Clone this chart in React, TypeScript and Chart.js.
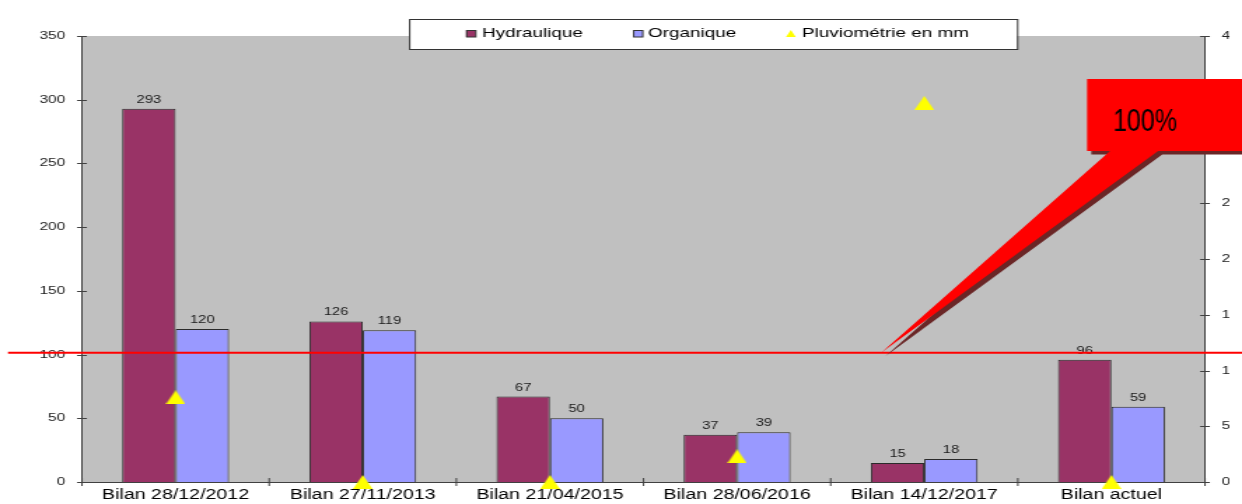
import { useEffect, useRef } from "react";
import { Chart, registerables } from "chart.js";

Chart.register(...registerables);

// ---------- data ----------
const categories = [
  "Bilan 28/12/2012",
  "Bilan 27/11/2013",
  "Bilan 21/04/2015",
  "Bilan 28/06/2016",
  "Bilan 14/12/2017",
  "Bilan actuel",
];
const hydraulique = [293, 126, 67, 37, 15, 96];
const organique = [120, 119, 50, 39, 18, 59];
const pluviometrie = [7.6, 0, 0, 2.3, 34, 0];
const seriesNames = ["Hydraulique", "Organique", "Pluviométrie en mm"];
const leftAxis = { min: 0, max: 350, step: 50 };
const rightAxis = { min: 0, max: 40, step: 5 };
const refLineValue = 101.5;
const calloutText = "100%";

// ---------- layout / style ----------
const IMG_W = 1242;
const IMG_H = 504;
const CANVAS_W = 887;
const S = IMG_W / CANVAS_W; // horizontal stretch of the original picture
const FONT = "'Liberation Sans', Arial, sans-serif";
const HYD_COLOR = "#993366";
const ORG_COLOR = "#9999FF";
const PLUV_COLOR = "#FFFF00";
const AXIS_COLOR = "#404040";
const PLOT_BG = "#C0C0C0";

function makeTriangle(w: number, h: number) {
  const c = document.createElement("canvas");
  c.width = w;
  c.height = h;
  const g = c.getContext("2d")!;
  g.fillStyle = PLUV_COLOR;
  g.beginPath();
  g.moveTo(w / 2, 0);
  g.lineTo(w, h);
  g.lineTo(0, h);
  g.closePath();
  g.fill();
  return c;
}

const decorPlugin = {
  id: "decor",
  beforeDraw(chart: any) {
    const { ctx, chartArea: a } = chart;
    ctx.save();
    ctx.fillStyle = "#ffffff";
    ctx.fillRect(0, 0, chart.width, chart.height);
    ctx.fillStyle = PLOT_BG;
    ctx.fillRect(a.left, a.top, a.right - a.left, a.bottom - a.top);
    ctx.restore();
  },
  afterDatasetsDraw(chart: any) {
    const { ctx } = chart;
    ctx.save();
    ctx.font = `10.5px ${FONT}`;
    ctx.fillStyle = "#1a1a1a";
    ctx.textAlign = "center";
    ctx.textBaseline = "alphabetic";
    [0, 1].forEach((di) => {
      const meta = chart.getDatasetMeta(di);
      const vals = chart.data.datasets[di].data as number[];
      meta.data.forEach((bar: any, j: number) => {
        ctx.fillText(String(vals[j]), bar.x, bar.y - 6);
      });
    });
    ctx.restore();
  },
  afterDraw(chart: any) {
    const { ctx, chartArea: a, scales } = chart;
    const x = scales.x;
    const y = scales.y;
    const y1 = scales.y1;
    ctx.save();

    // cross tick marks
    ctx.strokeStyle = AXIS_COLOR;
    ctx.lineWidth = 1;
    ctx.beginPath();
    y.ticks.forEach((t: any) => {
      const py = Math.round(y.getPixelForValue(t.value)) + 0.5;
      ctx.moveTo(a.left - 3.5, py);
      ctx.lineTo(a.left + 3.5, py);
    });
    y1.ticks.forEach((t: any) => {
      const py = Math.round(y1.getPixelForValue(t.value)) + 0.5;
      ctx.moveTo(a.right - 3.5, py);
      ctx.lineTo(a.right + 3.5, py);
    });
    const half = (x.getPixelForValue(1) - x.getPixelForValue(0)) / 2;
    for (let i = 0; i <= categories.length; i++) {
      const px = x.getPixelForValue(i) - half;
      ctx.moveTo(px, a.bottom - 4);
      ctx.lineTo(px, a.bottom + 4);
    }
    ctx.stroke();

    // the original picture is cropped on the right
    ctx.fillStyle = "#ffffff";
    ctx.fillRect(1229.5 / S, 0, chart.width, chart.height);

    // legend
    const lx0 = 409 / S;
    const lx1 = 1017 / S;
    ctx.fillStyle = "#ffffff";
    ctx.fillRect(lx0, 19, lx1 - lx0, 30);
    ctx.strokeStyle = "#333333";
    ctx.strokeRect(lx0 + 0.5, 19.5, lx1 - lx0, 30);
    ctx.font = `13.5px ${FONT}`;
    ctx.fillStyle = "#000000";
    ctx.textAlign = "left";
    ctx.textBaseline = "alphabetic";
    const markers = [466 / S, 633 / S, 786 / S];
    const texts = [482 / S, 648 / S, 802 / S];
    [HYD_COLOR, ORG_COLOR].forEach((c, i) => {
      ctx.fillStyle = c;
      ctx.fillRect(markers[i], 30, 7, 7);
      ctx.strokeStyle = "#333333";
      ctx.strokeRect(markers[i] + 0.5, 30.5, 6.5, 6.5);
    });
    ctx.fillStyle = PLUV_COLOR;
    ctx.beginPath();
    ctx.moveTo(markers[2] + 3.5, 30);
    ctx.lineTo(markers[2] + 7, 37);
    ctx.lineTo(markers[2], 37);
    ctx.closePath();
    ctx.fill();
    ctx.fillStyle = "#000000";
    seriesNames.forEach((n, i) => ctx.fillText(n, texts[i], 36.5));

    // red reference line
    const lineY = y.getPixelForValue(refLineValue);
    ctx.strokeStyle = "#FF0000";
    ctx.lineWidth = 2;
    ctx.beginPath();
    ctx.moveTo(8 / S, lineY);
    ctx.lineTo(chart.width, lineY);
    ctx.stroke();

    // callout
    const W = a.right - a.left;
    const fx = (f: number) => a.left + f * W;
    const rl = fx(0.895);
    const rt = a.top + 43;
    const rb = a.top + 115;
    const rr = chart.width + 10;
    const b1 = fx(0.9155);
    const b2 = fx(0.9582);
    const tipX = fx(0.7116);
    const shape = (dx: number, dy: number, color: string) => {
      ctx.fillStyle = color;
      ctx.beginPath();
      ctx.moveTo(rl + dx, rt + dy);
      ctx.lineTo(rr + dx, rt + dy);
      ctx.lineTo(rr + dx, rb + dy);
      ctx.lineTo(b2 + dx, rb + dy);
      ctx.lineTo(tipX + dx, lineY + dy);
      ctx.lineTo(b1 + dx, rb + dy);
      ctx.lineTo(rl + dx, rb + dy);
      ctx.closePath();
      ctx.fill();
    };
    shape(3, 3.5, "#6A2626");
    shape(0, 0, "#FF0000");
    ctx.font = `31px ${FONT}`;
    const m = ctx.measureText(calloutText).width;
    const target = 64 / S;
    ctx.save();
    ctx.translate(fx(0.9466), a.top + 95);
    ctx.scale(target / m, 1);
    ctx.fillStyle = "#000000";
    ctx.textAlign = "center";
    ctx.fillText(calloutText, 0, 0);
    ctx.restore();

    ctx.restore();
  },
};

export default function App() {
  const ref = useRef<HTMLCanvasElement | null>(null);

  useEffect(() => {
    if (!ref.current) return;
    Chart.defaults.font.family = FONT;
    const tri = makeTriangle(14, 14);
    const chart = new Chart(ref.current, {
      type: "bar",
      data: {
        labels: categories,
        datasets: [
          {
            label: seriesNames[0],
            data: hydraulique,
            backgroundColor: HYD_COLOR,
            borderColor: "#2a2a2a",
            borderWidth: 1,
            categoryPercentage: 0.571,
            barPercentage: 1,
            yAxisID: "y",
          },
          {
            label: seriesNames[1],
            data: organique,
            backgroundColor: ORG_COLOR,
            borderColor: "#2a2a2a",
            borderWidth: 1,
            categoryPercentage: 0.571,
            barPercentage: 1,
            yAxisID: "y",
          },
          {
            type: "line",
            label: seriesNames[2],
            data: pluviometrie,
            yAxisID: "y1",
            showLine: false,
            pointStyle: tri as any,
            pointRadius: 7,
            order: -1,
            clip: false as any,
          } as any,
        ],
      },
      options: {
        responsive: false,
        maintainAspectRatio: false,
        animation: false,
        devicePixelRatio: 1,
        events: [],
        layout: { padding: { top: 36, left: 0, right: 0, bottom: 0 } },
        plugins: {
          legend: { display: false },
          tooltip: { enabled: false },
        },
        scales: {
          x: {
            offset: true,
            grid: { display: false, drawTicks: false },
            border: { display: true, color: AXIS_COLOR, width: 1 },
            ticks: {
              color: "#000000",
              font: { size: 14, family: FONT },
              padding: 5,
              maxRotation: 0,
              autoSkip: false,
            },
            afterFit: (s: any) => {
              s.height = IMG_H - 482;
            },
          },
          y: {
            position: "left",
            min: leftAxis.min,
            max: leftAxis.max,
            grid: { display: false, drawTicks: false },
            border: { display: true, color: AXIS_COLOR, width: 1 },
            ticks: {
              stepSize: leftAxis.step,
              color: "#222222",
              font: { size: 11, family: FONT },
              padding: 12,
            },
            afterFit: (s: any) => {
              s.width = 82 / S;
            },
          },
          y1: {
            position: "right",
            min: rightAxis.min,
            max: rightAxis.max,
            grid: { display: false, drawTicks: false },
            border: { display: true, color: AXIS_COLOR, width: 1 },
            ticks: {
              stepSize: rightAxis.step,
              color: "#222222",
              font: { size: 11, family: FONT },
              padding: 12,
            },
            afterFit: (s: any) => {
              s.width = CANVAS_W - 1205 / S;
            },
          },
        },
      },
      plugins: [decorPlugin],
    });
    return () => chart.destroy();
  }, []);

  return (
    <div
      style={{
        position: "absolute",
        left: 0,
        top: 0,
        width: CANVAS_W,
        height: IMG_H,
        transform: `scaleX(${S})`,
        transformOrigin: "0 0",
        overflow: "hidden",
      }}
    >
      <canvas ref={ref} width={CANVAS_W} height={IMG_H} />
    </div>
  );
}
